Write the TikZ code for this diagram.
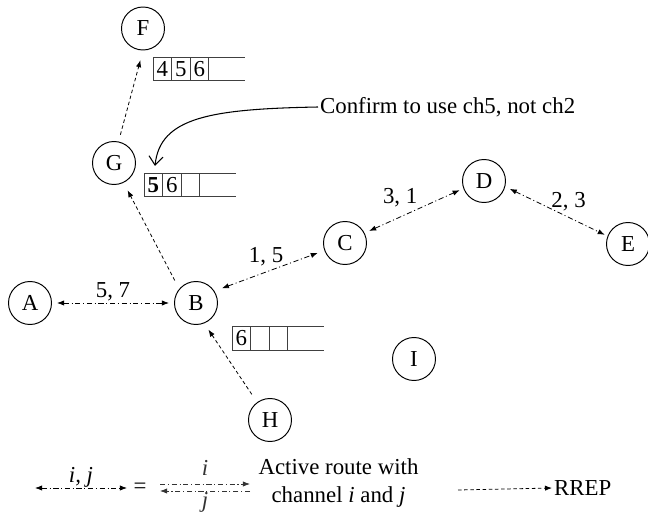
\documentclass[tikz,border=0pt]{standalone}
\usepackage{fontspec}
\setmainfont{Liberation Serif}
\usetikzlibrary{arrows.meta,positioning}

\tikzset{
  station/.style={draw,circle,line width=0.55pt,minimum size=8.6mm,inner sep=0pt},
  route/.style={{Latex[length=4pt,width=3pt]}-{Latex[length=4pt,width=3pt]},line width=0.45pt,
    dash pattern=on 3pt off 1.5pt on 0.6pt off 1.5pt,shorten <=1mm,shorten >=1mm},
  halfroute/.style={-{Latex[length=4pt,width=3pt]},line width=0.45pt,
    dash pattern=on 3pt off 1.5pt on 0.6pt off 1.5pt},
  rrep/.style={-{Latex[length=4pt,width=3pt]},line width=0.45pt,dash pattern=on 2pt off 1.5pt},
  cell/.style={draw=black!75,minimum width=3.7mm,minimum height=4.7mm,inner sep=0pt,outer sep=0pt}
}

\begin{document}
\begin{tikzpicture}[font=\fontsize{13pt}{15.5pt}\selectfont]
\useasboundingbox (0,0) rectangle (12.96,10.30);

% nodes
\node[station] (F) at (2.86,9.73) {F};
\node[station] (G) at (2.28,7.04) {G};
\node[station] (A) at (0.60,4.24) {A};
\node[station] (B) at (3.92,4.24) {B};
\node[station] (C) at (6.90,5.44) {C};
\node[station] (D) at (9.68,6.68) {D};
\node[station] (E) at (12.56,5.42) {E};
\node[station] (H) at (5.40,1.90) {H};
\node[station] (I) at (8.28,3.12) {I};

% channel lists
\node[cell] (f1) at (3.245,8.92) {4};
\node[cell,right=0pt of f1] (f2) {5};
\node[cell,right=0pt of f2] (f3) {6};
\draw[black!75] (f3.north east) -- ++(0.72,0) (f3.south east) -- ++(0.72,0);

\node[cell] (g1) at (3.065,6.60) {\textbf{5}};
\node[cell,right=0pt of g1] (g2) {6};
\node[cell,right=0pt of g2] (g3) {};
\draw[black!75] (g3.north east) -- ++(0.72,0) (g3.south east) -- ++(0.72,0);

\node[cell] (b1) at (4.825,3.53) {6};
\node[cell,right=0pt of b1] (b2) {};
\node[cell,right=0pt of b2] (b3) {};
\draw[black!75] (b3.north east) -- ++(0.72,0) (b3.south east) -- ++(0.72,0);

% active routes
\draw[route] (A) -- node[above,inner sep=1pt]{5, 7} (B);
\draw[route,shorten <=1.6mm,shorten >=1.4mm] (B.33) -- node[above,pos=0.47]{1, 5} (C.200);
\draw[route,shorten >=0.8mm] (C.27) -- node[above=2pt,pos=0.36]{3, 1} (D.200);
\draw[route,shorten >=0.6mm] (D.-15) -- node[above,pos=0.62]{2, 3} (E.159);

% route replies
\draw[rrep,shorten <=1.9mm,shorten >=1.7mm] (B.140) -- (G.-64);
\draw[rrep,shorten <=1.4mm,shorten >=2mm] (G.78) -- (F.-90);
\draw[rrep,shorten <=1.9mm,shorten >=1.5mm] (H.126) -- (B.-68);

% note
\node[anchor=west,inner sep=1pt] (note) at (6.36,8.16) {Confirm to use ch5, not ch2};
\coordinate (ack) at (3.10,6.98);
\draw[-{Straight Barb[length=5pt,width=8pt]},line width=0.6pt] (note.west) .. controls (4.2,8.12) and (3.2,7.95) .. (ack);

% legend
\coordinate (l1) at (0.70,0.54);
\coordinate (l2) at (2.54,0.54);
\draw[route,shorten <=0pt,shorten >=0pt] (l1) -- node[above,inner sep=0pt]{\textit{i, j}} (l2);
\node (eq) at (2.80,0.54) {=};
\coordinate (p1) at (3.20,0.62);
\coordinate (p2) at (5.00,0.62);
\coordinate (q1) at (3.20,0.48);
\coordinate (q2) at (5.00,0.48);
\draw[halfroute,black!80] (p1) -- node[above=1pt]{\textit{i}} (p2);
\draw[halfroute,black!80] (q2) -- node[below,inner sep=0.5pt]{\textit{j}} (q1);
\node[align=center] (act) at (6.77,0.64) {Active route with\\channel \textit{i} and \textit{j}};
\coordinate (r1) at (9.16,0.50);
\node[anchor=west,inner sep=1pt] (rrep) at (11.04,0.54) {RREP};
\draw[rrep] (r1) -- (rrep.west);
\end{tikzpicture}
\end{document}
